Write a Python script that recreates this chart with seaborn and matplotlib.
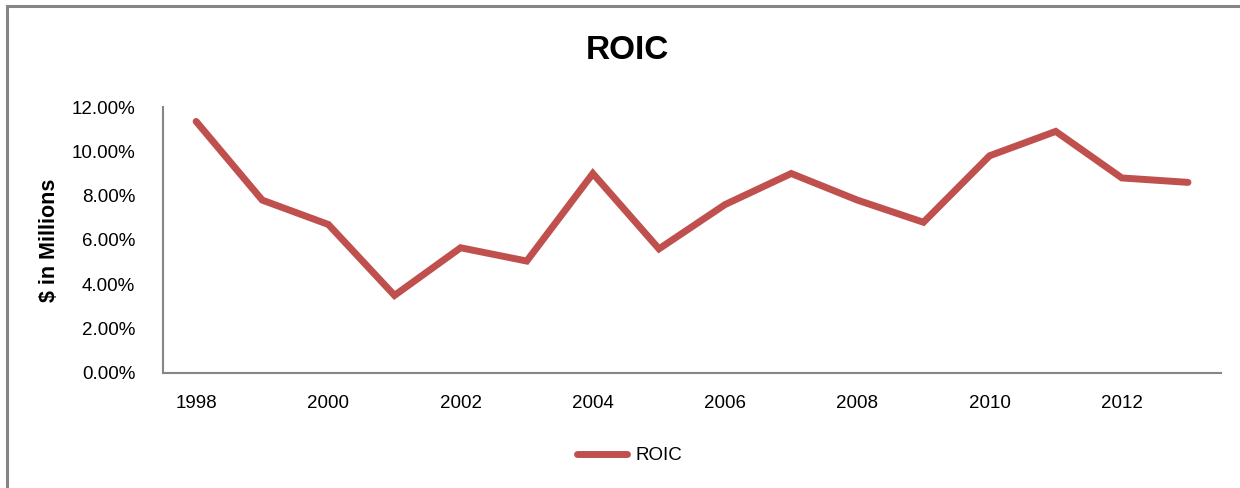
import pandas as pd
import seaborn as sns
import matplotlib.pyplot as plt
from matplotlib.ticker import PercentFormatter, FixedLocator
from matplotlib.patches import Rectangle

# ROIC values (percent)
years = [1998, 1999, 2000, 2001, 2002, 2003, 2004, 2005,
         2006, 2007, 2008, 2009, 2010, 2011, 2012, 2013]
roic = [11.35, 7.8, 6.7, 3.5, 5.65, 5.05, 9.0, 5.6,
        7.6, 9.0, 7.8, 6.8, 9.8, 10.9, 8.8, 8.6]
xtick_years = [1998, 2000, 2002, 2004, 2006, 2008, 2010, 2012]
yticks = [0, 2, 4, 6, 8, 10, 12]

df = pd.DataFrame({"Year": years, "ROIC": roic})

sns.set_style("white")
plt.rcParams['font.family'] = ['Liberation Sans', 'DejaVu Sans']
plt.rcParams['text.color'] = 'black'
plt.rcParams['axes.labelcolor'] = 'black'

fig = plt.figure(figsize=(12.4, 4.88), dpi=100)
ax = fig.add_axes([0.1315, 0.2357, 0.8532, 0.545])

sns.lineplot(data=df, x="Year", y="ROIC", ax=ax, color="#C0504D",
             linewidth=5, solid_capstyle="round", solid_joinstyle="miter",
             label="ROIC")

ax.set_xlim(1997.5, 2013.5)
ax.set_ylim(0, 12)
ax.xaxis.set_major_locator(FixedLocator(xtick_years))
ax.set_yticks(yticks)
ax.yaxis.set_major_formatter(PercentFormatter(decimals=2))
ax.tick_params(axis="both", length=0, labelsize=13.5, colors="black")
ax.tick_params(axis="x", pad=16)
ax.tick_params(axis="y", pad=20)

ax.set_xlabel("")
ax.set_ylabel("$ in Millions", fontsize=15.5, fontweight="bold", labelpad=8)

for side in ["top", "right"]:
    ax.spines[side].set_visible(False)
for side in ["left", "bottom"]:
    ax.spines[side].set_color("#868686")
    ax.spines[side].set_linewidth(1.5)

fig.text(0.506, 0.897, "ROIC", ha="center", va="center",
         fontsize=24, fontweight="bold")

leg = ax.legend(loc="center", bbox_to_anchor=(0.441, -0.311), frameon=False,
                fontsize=13.5, handlelength=2.7, handletextpad=0.45)

# outer chart border (top and left visible)
fig.patches.append(Rectangle((7 / 1240, -0.1), 1.2, 1.1 - 6.5 / 488,
                             transform=fig.transFigure, fill=False,
                             edgecolor="#868686", linewidth=2.2))

fig.savefig("out.png", dpi=100)
